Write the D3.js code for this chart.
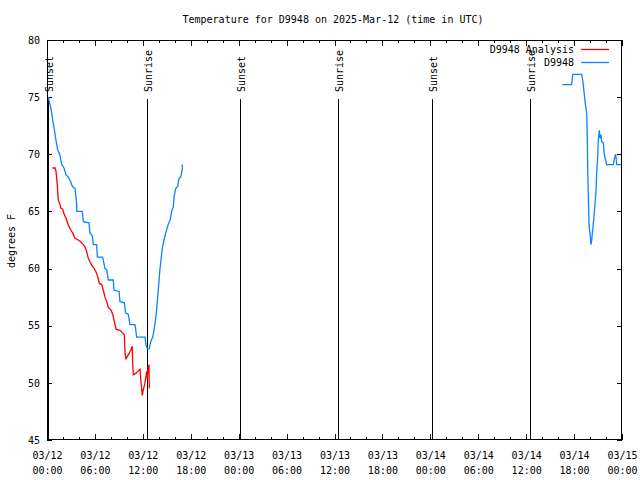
<!DOCTYPE html>
<html>
<head>
<meta charset="utf-8">
<script src="https://cdn.jsdelivr.net/npm/d3@7"></script>
<style>
  html, body { margin: 0; padding: 0; background: #fff; }
  svg { display: block; }
  text { font-family: "DejaVu Sans Mono", "Liberation Mono", monospace; font-size: 10px; fill: #000; }
</style>
</head>
<body>
<svg id="chart" width="640" height="480"></svg>
<script>
// ---- Data (hours after 2025-03-12 00:00 UTC) ----
const titleText = "Temperature for D9948 on 2025-Mar-12 (time in UTC)";
const yLabel = "degrees F";
const yTicks = [45, 50, 55, 60, 65, 70, 75, 80];

const obsHours = [0.16,0.50,0.71,0.91,1.13,1.34,1.63,1.84,2.13,2.38,2.67,2.97,3.17,3.51,3.72,3.72,4.42,4.55,5.26,5.38,5.67,5.80,6.22,6.30,6.97,7.26,7.48,7.68,8.30,8.39,9.02,9.14,9.68,9.85,10.18,10.39,11.02,11.23,12.27,12.40,12.56,12.81,12.98,13.24,13.40,13.59,13.74,13.94,14.15,14.44,14.78,15.19,15.40,15.61,15.81,15.94,16.12,16.37,16.53,16.74,16.94,16.94,
  40.0,
  64.52,65.70,65.83,66.95,67.08,67.24,67.37,67.58,67.66,67.71,67.78,67.87,67.99,68.12,68.21,68.33,68.49,68.62,68.74,68.83,68.96,69.03,69.16,69.25,69.37,69.46,69.66,69.78,70.08,70.91,71.04,71.21,71.34,72.0];
const obsTemps = [75.0,74.0,73.0,72.2,71.2,70.4,69.9,69.1,68.8,68.2,68.0,67.6,67.2,67.0,65.6,65.0,65.0,64.1,64.0,63.1,62.9,62.1,62.1,61.0,61.0,60.0,59.9,59.0,59.0,58.1,58.0,57.1,57.0,56.1,56.0,55.1,55.1,54.0,54.0,53.3,53.0,53.0,53.6,54.0,54.6,55.5,56.5,58.2,60.0,61.8,62.9,63.9,64.2,65.0,65.4,66.4,67.0,67.2,67.9,68.0,68.7,69.1,
  null,
  76.1,76.1,77.0,77.0,76.5,75.5,74.6,73.6,71.25,68.6,66.6,63.8,63.1,62.1,62.5,63.4,64.5,65.7,66.7,68.3,69.8,71.25,72.1,71.4,71.7,71.1,71.0,70.0,69.1,69.1,69.6,70.0,69.1,69.1];

const anaHours = [0.66,1.00,1.13,1.29,1.41,1.63,1.72,1.97,2.13,2.38,2.67,2.97,3.22,3.51,3.92,4.22,4.55,4.76,4.97,5.17,5.38,5.60,5.92,6.14,6.35,6.55,6.85,7.05,7.26,7.48,7.68,7.98,8.23,8.39,8.51,8.64,9.14,9.43,9.68,9.77,9.89,10.31,10.68,10.73,10.81,11.14,11.65,11.73,11.93,12.06,12.27,12.40,12.48,12.56,12.68,12.77,12.81];
const anaTemps = [68.8,68.8,68.5,67.3,66.0,65.6,65.3,65.2,64.8,64.4,63.8,63.4,63.1,62.65,62.5,62.35,62.1,61.9,61.5,60.9,60.6,60.3,60.0,59.7,59.3,58.7,58.6,58.1,57.5,57.1,56.6,56.4,56.0,55.5,55.1,54.7,54.6,54.4,54.2,52.6,52.1,52.6,53.2,51.7,50.7,50.85,51.2,50.4,48.9,49.4,50.0,50.6,51.0,50.4,51.4,51.6,49.5];

const sunHours = [0.13, 12.56, 24.17, 36.44, 48.21, 60.48];
const sunLabels = ["Sunset", "Sunrise", "Sunset", "Sunrise", "Sunset", "Sunrise"];

const seriesNames = ["D9948 Analysis", "D9948"];
const seriesColors = ["#ff0000", "#0a84ff"];

// ---- Layout ----
const L = 47, R = 622, T = 40, B = 440;
const t0 = Date.UTC(2025, 2, 12, 0, 0);
const H = 3600 * 1000;
const toDate = h => new Date(t0 + h * H);

const svg = d3.select("#chart");
const x = d3.scaleUtc().domain([toDate(0), toDate(72)]).range([L, R]);
const y = d3.scaleLinear().domain([45, 80]).range([B, T]);

svg.append("defs").append("clipPath").attr("id", "plotclip")
  .append("rect").attr("x", L).attr("y", T).attr("width", R - L).attr("height", B - T);

// Title
svg.append("text").attr("x", 333).attr("y", 19).attr("dy", "0.35em")
  .attr("text-anchor", "middle").text(titleText);

// Y label
svg.append("text").attr("transform", "translate(11,241) rotate(-90)")
  .attr("dy", "0.35em").attr("text-anchor", "middle").text(yLabel);

// Axes ticks
const majorTicks = d3.utcHour.every(6).range(toDate(0), toDate(72.01));
const minorTicks = d3.utcHour.every(2).range(toDate(0), toDate(72.01));
const fmtDay = d3.utcFormat("%m/%d"), fmtTime = d3.utcFormat("%H:%M");

function styleAxis(g) {
  g.select(".domain").remove();
  g.selectAll("line").attr("stroke", "#000").attr("shape-rendering", "crispEdges");
}

// bottom minor + major
svg.append("g").attr("transform", `translate(0,${B})`)
  .call(d3.axisBottom(x).tickValues(minorTicks).tickSize(-3).tickFormat(""))
  .call(styleAxis);
const bottomMajor = svg.append("g").attr("transform", `translate(0,${B})`)
  .call(d3.axisBottom(x).tickValues(majorTicks).tickSize(-6).tickPadding(0).tickFormat(d => fmtDay(d)))
  .call(styleAxis);
bottomMajor.selectAll("text").each(function(d) {
  const t = d3.select(this);
  t.text(null).attr("y", 0).attr("dy", null)
    .attr("font-family", "DejaVu Sans Mono").attr("font-size", 10);
  t.append("tspan").attr("x", 0).attr("y", 15).attr("dy", "0.35em").text(fmtDay(d));
  t.append("tspan").attr("x", 0).attr("y", 30).attr("dy", "0.35em").text(fmtTime(d));
});

// top minor + major (mirror)
svg.append("g").attr("transform", `translate(0,${T})`)
  .call(d3.axisTop(x).tickValues(minorTicks).tickSize(-3).tickFormat(""))
  .call(styleAxis);
svg.append("g").attr("transform", `translate(0,${T})`)
  .call(d3.axisTop(x).tickValues(majorTicks).tickSize(-6).tickFormat(""))
  .call(styleAxis);

// left axis
const leftAxis = svg.append("g").attr("transform", `translate(${L},0)`)
  .call(d3.axisLeft(y).tickValues(yTicks).tickSize(-5).tickPadding(7).tickFormat(d3.format("d")))
  .call(styleAxis);
leftAxis.selectAll("text").attr("font-family", "DejaVu Sans Mono").attr("font-size", 10);
// right axis mirror
svg.append("g").attr("transform", `translate(${R},0)`)
  .call(d3.axisRight(y).tickValues(yTicks).tickSize(-5).tickFormat(""))
  .call(styleAxis);

// Sun event lines
sunHours.forEach((h, i) => {
  const sx = Math.round(x(toDate(h))) + 0.5;
  svg.append("line").attr("x1", sx).attr("x2", sx).attr("y1", 99).attr("y2", B)
    .attr("stroke", "#000").attr("stroke-width", 1);
  svg.append("text").attr("transform", `translate(${sx + 1},92) rotate(-90)`)
    .attr("dy", "0.35em").attr("text-anchor", "start").text(sunLabels[i]);
});

// Data lines
const line = d3.line()
  .defined(d => d.v != null)
  .x(d => x(toDate(d.h)))
  .y(d => y(d.v));

const anaData = anaHours.map((h, i) => ({ h, v: anaTemps[i] }));
const obsData = obsHours.map((h, i) => ({ h, v: obsTemps[i] }));

const plot = svg.append("g").attr("clip-path", "url(#plotclip)");
plot.append("path").datum(anaData).attr("d", line)
  .attr("fill", "none").attr("stroke", seriesColors[0]).attr("stroke-width", 1.3);
plot.append("path").datum(obsData).attr("d", line)
  .attr("fill", "none").attr("stroke", seriesColors[1]).attr("stroke-width", 1.3);

// Frame
svg.append("rect").attr("x", L + 0.5).attr("y", T + 0.5).attr("width", R - L - 1).attr("height", B - T - 1)
  .attr("fill", "none").attr("stroke", "#000").attr("stroke-width", 1).attr("shape-rendering", "crispEdges");

// Legend
seriesNames.forEach((name, i) => {
  const ly = 49 + i * 13;
  svg.append("text").attr("x", 574).attr("y", ly).attr("dy", "0.35em")
    .attr("text-anchor", "end").text(name);
  svg.append("line").attr("x1", 581).attr("x2", 609).attr("y1", ly + 0.5).attr("y2", ly + 0.5)
    .attr("stroke", seriesColors[i]).attr("stroke-width", 1.3);
});
</script>
</body>
</html>
